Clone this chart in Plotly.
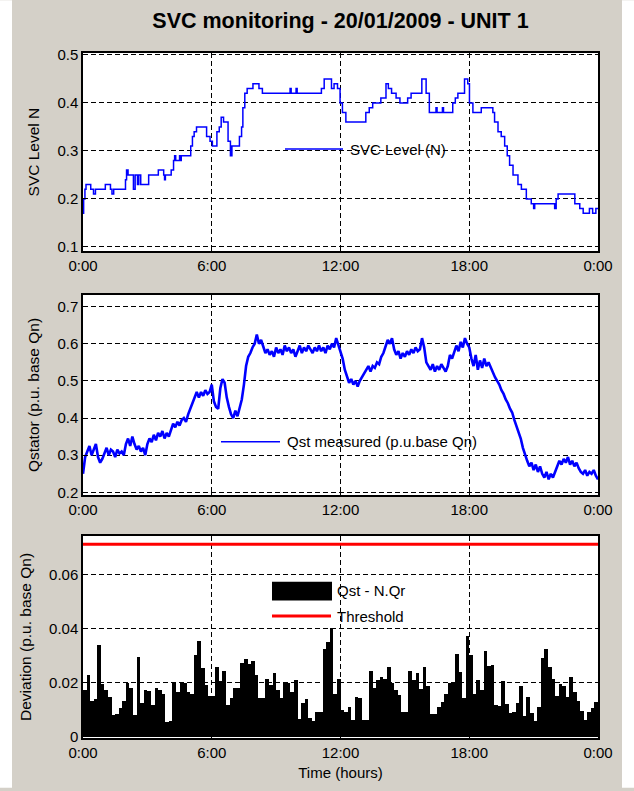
import plotly.graph_objects as go

# ---------------- data ----------------
tick_hours = [0, 6, 12, 18, 24]
tick_text = ["0:00", "6:00", "12:00", "18:00", "0:00"]

# SVC level (step signal): change times (hours) and levels
svc_t = [0.00, 0.03, 0.09, 0.14, 0.36, 0.49, 0.58, 1.04, 1.28, 1.35, 1.43, 1.98, 2.03, 2.10,
         2.35, 2.43, 2.54, 2.60, 2.69, 3.06, 3.51, 3.76, 3.80, 3.84, 4.11, 4.22, 4.27, 4.32,
         4.50, 4.55, 4.58, 5.02, 5.10, 5.18, 5.29, 5.76, 5.92, 6.03, 6.24, 6.35, 6.44, 6.55,
         6.76, 6.87, 6.94, 7.29, 7.39, 7.45, 7.54, 7.65, 7.92, 8.20, 8.36, 9.65, 9.70, 9.93,
         9.98, 11.11, 11.24, 11.58, 11.70, 11.86, 11.98, 12.09, 12.25, 13.18, 13.34, 13.50,
         13.88, 14.12, 14.23, 14.38, 14.59, 14.77, 15.13, 15.29, 15.79, 15.99, 16.14, 16.45,
         16.50, 16.75, 16.80, 17.23, 17.35, 17.47, 17.78, 17.93, 18.01, 18.17, 18.56, 19.10,
         19.18, 19.34, 19.49, 19.65, 19.77, 19.88, 20.04, 20.27, 20.43, 20.66, 20.89, 21.00,
         21.05, 21.98, 22.05, 22.14, 22.33, 22.92, 23.15, 23.31, 23.60, 23.75, 23.90, 24.00]
svc_v = [0.17, 0.20, 0.22, 0.23, 0.22, 0.21, 0.22, 0.23, 0.22, 0.21, 0.22, 0.24, 0.26, 0.25,
         0.22, 0.25, 0.23, 0.25, 0.23, 0.25, 0.26, 0.25, 0.24, 0.25, 0.26, 0.28, 0.29, 0.28,
         0.29, 0.28, 0.29, 0.31, 0.33, 0.34, 0.35, 0.33, 0.32, 0.31, 0.34, 0.35, 0.37, 0.36,
         0.32, 0.29, 0.31, 0.33, 0.35, 0.39, 0.42, 0.43, 0.44, 0.43, 0.42, 0.43, 0.42, 0.43,
         0.42, 0.43, 0.45, 0.43, 0.44, 0.43, 0.40, 0.38, 0.36, 0.38, 0.39, 0.40,
         0.41, 0.44, 0.43, 0.42, 0.41, 0.40, 0.41, 0.42, 0.45, 0.42, 0.38, 0.39,
         0.38, 0.39, 0.38, 0.40, 0.41, 0.42, 0.45, 0.44, 0.40, 0.38, 0.39, 0.38,
         0.36, 0.34, 0.33, 0.31, 0.29, 0.27, 0.25, 0.23, 0.22, 0.20, 0.19, 0.18,
         0.19, 0.18, 0.20, 0.21, 0.21, 0.19, 0.18, 0.17, 0.18, 0.17, 0.18, 0.18]

# Qst measured, one sample every 0.1 h (rows = hours 0..23, then 24:00)
qst_v = [
    0.250, 0.295, 0.310, 0.325, 0.300, 0.315, 0.330, 0.295, 0.280, 0.290,
    0.305, 0.320, 0.300, 0.315, 0.310, 0.295, 0.315, 0.305, 0.310, 0.300,
    0.330, 0.345, 0.325, 0.350, 0.330, 0.315, 0.325, 0.310, 0.320, 0.300,
    0.330, 0.345, 0.335, 0.355, 0.340, 0.360, 0.350, 0.365, 0.345, 0.360,
    0.350, 0.370, 0.385, 0.375, 0.390, 0.380, 0.395, 0.400, 0.390, 0.410,
    0.425, 0.445, 0.455, 0.470, 0.455, 0.470, 0.460, 0.475, 0.465, 0.470,
    0.490, 0.445, 0.430, 0.425, 0.480, 0.505, 0.495, 0.455, 0.430, 0.410,
    0.400, 0.420, 0.405, 0.425, 0.450, 0.490, 0.540, 0.565, 0.575, 0.590,
    0.600, 0.625, 0.600, 0.610, 0.590, 0.575, 0.585, 0.570, 0.580, 0.565,
    0.590, 0.575, 0.585, 0.570, 0.595, 0.580, 0.590, 0.575, 0.585, 0.565,
    0.580, 0.595, 0.575, 0.590, 0.580, 0.595, 0.585, 0.575, 0.590, 0.580,
    0.595, 0.580, 0.590, 0.575, 0.595, 0.585, 0.600, 0.590, 0.615, 0.595,
    0.580, 0.560, 0.530, 0.510, 0.495, 0.505, 0.490, 0.500, 0.485, 0.500,
    0.510, 0.520, 0.530, 0.540, 0.525, 0.540, 0.535, 0.550, 0.545, 0.565,
    0.575, 0.590, 0.610, 0.600, 0.615, 0.585, 0.570, 0.580, 0.560, 0.575,
    0.565, 0.580, 0.570, 0.585, 0.575, 0.590, 0.580, 0.585, 0.615, 0.590,
    0.550, 0.540, 0.530, 0.545, 0.525, 0.540, 0.530, 0.545, 0.535, 0.525,
    0.540, 0.570, 0.560, 0.580, 0.595, 0.580, 0.605, 0.590, 0.615, 0.600,
    0.590, 0.560, 0.540, 0.570, 0.530, 0.555, 0.535, 0.560, 0.540, 0.550,
    0.535, 0.525, 0.510, 0.500, 0.490, 0.475, 0.465, 0.450, 0.440, 0.425,
    0.415, 0.395, 0.380, 0.360, 0.345, 0.320, 0.300, 0.285, 0.270, 0.280,
    0.260, 0.275, 0.255, 0.270, 0.250, 0.240, 0.255, 0.235, 0.250, 0.240,
    0.255, 0.270, 0.285, 0.275, 0.290, 0.280, 0.295, 0.275, 0.285, 0.270,
    0.280, 0.265, 0.255, 0.250, 0.260, 0.245, 0.255, 0.250, 0.260, 0.245,
    0.235]
qst_step_h = 0.1

# Deviation Qst - N.Qr, one bar per 10 minutes (144 bars)
dev_v = [
    # 0:00 - 6:00
    0.0175, 0.023, 0.0133, 0.0138, 0.034, 0.0194, 0.0172, 0.0148, 0.0081, 0.0085, 0.0105, 0.0133,
    0.0199, 0.018, 0.008, 0.0296, 0.0124, 0.0175, 0.017, 0.0118, 0.018, 0.0175, 0.016, 0.0053,
    0.0057, 0.0199, 0.0166, 0.020, 0.020, 0.0166, 0.0158, 0.0305, 0.0356, 0.0255, 0.019, 0.015,
    # 6:00 - 12:00
    0.015, 0.026, 0.0208, 0.0242, 0.0118, 0.0142, 0.018, 0.018, 0.0275, 0.029, 0.027, 0.028,
    0.023, 0.0145, 0.0145, 0.0215, 0.019, 0.0235, 0.0175, 0.0145, 0.020, 0.020, 0.0166, 0.021,
    0.0065, 0.0124, 0.0138, 0.0069, 0.0057, 0.009, 0.009, 0.0324, 0.035, 0.0405, 0.0158, 0.0215,
    # 12:00 - 18:00
    0.0099, 0.0093, 0.0109, 0.006, 0.0148, 0.0142, 0.006, 0.006, 0.0242, 0.018, 0.021, 0.022,
    0.0215, 0.0257, 0.020, 0.0175, 0.0154, 0.0093, 0.0093, 0.0242, 0.021, 0.0235, 0.0178, 0.0257,
    0.0187, 0.0085, 0.0085, 0.011, 0.013, 0.0158, 0.020, 0.020, 0.0308, 0.024, 0.0142, 0.0372,
    # 18:00 - 24:00
    0.0305, 0.016, 0.021, 0.0175, 0.0318, 0.0263, 0.0267, 0.0118, 0.0114, 0.0208, 0.012, 0.0087,
    0.0093, 0.0124, 0.0187, 0.0078, 0.0148, 0.0087, 0.0057, 0.0109, 0.0293, 0.0324, 0.026, 0.0215,
    0.015, 0.0196, 0.0187, 0.0148, 0.022, 0.0166, 0.0133, 0.0097, 0.0063, 0.009, 0.0105, 0.013]
dev_bin_h = 1.0 / 6.0
threshold = 0.0714

# ---------------- figure ----------------
W, H = 634, 791
L, R, T, B = 83, 598, 53, 741   # plot region in pixels


def px(x):
    return (x - L) / (R - L)


def py(y):
    return (B - y) / (B - T)


qst_t = [i * qst_step_h for i in range(len(qst_v))]
dev_t = [i * dev_bin_h + dev_bin_h / 2 for i in range(len(dev_v))]

FONT = "Liberation Sans, Arial, sans-serif"
BLUE = "#0000ff"

fig = go.Figure()
fig.add_trace(go.Scatter(x=svc_t, y=svc_v, mode="lines", name="SVC Level (N)",
                         line=dict(color=BLUE, width=1.5, shape="hv"),
                         xaxis="x", yaxis="y", showlegend=False))
fig.add_trace(go.Scatter(x=qst_t, y=qst_v, mode="lines", name="Qst measured (p.u.base Qn)",
                         line=dict(color=BLUE, width=2.6),
                         xaxis="x2", yaxis="y2", showlegend=False))
fig.add_trace(go.Bar(x=dev_t, y=dev_v, width=dev_bin_h, name="Qst - N.Qr",
                     marker=dict(color="black", line=dict(width=0)),
                     xaxis="x3", yaxis="y3", showlegend=False))
fig.add_trace(go.Scatter(x=[0, 24], y=[threshold, threshold], mode="lines", name="Threshold",
                         line=dict(color="#ff0000", width=3),
                         xaxis="x3", yaxis="y3", showlegend=False))

common = dict(showline=True, linecolor="black", linewidth=1.5, mirror=True,
              ticks="inside", ticklen=4, tickcolor="black",
              showgrid=True, gridcolor="black", gridwidth=1, griddash="5px,3px",
              zeroline=False, tickfont=dict(family=FONT, size=15, color="black"))

xcommon = dict(common, range=[0, 24], tickmode="array", tickvals=tick_hours, ticktext=tick_text)

dom1 = [py(252), py(T)]
dom2 = [py(497), py(296)]
dom3 = [0, py(538)]

fig.update_layout(
    width=W, height=H,
    margin=dict(l=L, r=W - R, t=T, b=H - B, pad=0),
    paper_bgcolor="#d4d0c8", plot_bgcolor="white",
    font=dict(family=FONT, size=15, color="black"),
    bargap=0,
    title=dict(text="<b>SVC monitoring - 20/01/2009 - UNIT 1</b>",
               font=dict(family=FONT, size=21.5, color="black"),
               x=0.5, xref="paper", xanchor="center",
               y=1 - 20 / H, yref="container", yanchor="middle"),
    xaxis=dict(xcommon, domain=[0, 1], anchor="y"),
    yaxis=dict(common, domain=dom1, anchor="x", range=[0.0911, 0.504],
               tickvals=[0.1, 0.2, 0.3, 0.4, 0.5],
               title=dict(text="SVC Level N", font=dict(size=15.5), standoff=14)),
    xaxis2=dict(xcommon, domain=[0, 1], anchor="y2"),
    yaxis2=dict(common, domain=dom2, anchor="x2", range=[0.1928, 0.7313],
                tickvals=[0.2, 0.3, 0.4, 0.5, 0.6, 0.7],
                title=dict(text="Qstator (p.u. base Qn)", font=dict(size=15.5), standoff=14)),
    xaxis3=dict(xcommon, domain=[0, 1], anchor="y3",
                title=dict(text="Time (hours)", font=dict(size=15), standoff=8)),
    yaxis3=dict(common, domain=dom3, anchor="x3", range=[-0.00055, 0.0745],
                tickvals=[0, 0.02, 0.04, 0.06], ticktext=["0", "0.02", "0.04", "0.06"],
                title=dict(text="Deviation (p.u. base Qn)", font=dict(size=15.5), standoff=14)),
)

shapes = [
    # white strips at the window edges
    dict(type="rect", xref="paper", yref="paper", x0=px(0), x1=px(12), y0=py(H), y1=py(0),
         fillcolor="white", line=dict(width=0), layer="below"),
    dict(type="rect", xref="paper", yref="paper", x0=px(622), x1=px(W), y0=py(H), y1=py(0),
         fillcolor="white", line=dict(width=0), layer="below"),
    # legend symbols
    dict(type="line", xref="paper", yref="paper", x0=px(285), x1=px(343), y0=py(149.5), y1=py(149.5),
         line=dict(color=BLUE, width=1.5)),
    dict(type="line", xref="paper", yref="paper", x0=px(221), x1=px(280), y0=py(443.5), y1=py(443.5),
         line=dict(color=BLUE, width=1.5)),
    dict(type="rect", xref="paper", yref="paper", x0=px(272), x1=px(332), y0=py(603), y1=py(584),
         fillcolor="black", line=dict(width=0)),
    dict(type="line", xref="paper", yref="paper", x0=px(272), x1=px(331), y0=py(618.5), y1=py(618.5),
         line=dict(color="#ff0000", width=3)),
]
fig.update_layout(shapes=shapes)

ann = [
    ("SVC Level (N)", 348, 149.5),
    ("Qst measured (p.u.base Qn)", 285, 443.5),
    ("Qst - N.Qr", 335, 593),
    ("Threshold", 335, 618.5),
]
fig.update_layout(annotations=[
    dict(text=t, x=px(x), y=py(y), xref="paper", yref="paper", xanchor="left", yanchor="middle",
         showarrow=False, font=dict(family=FONT, size=15, color="black"))
    for t, x, y in ann
])

fig.write_html("out.html")
